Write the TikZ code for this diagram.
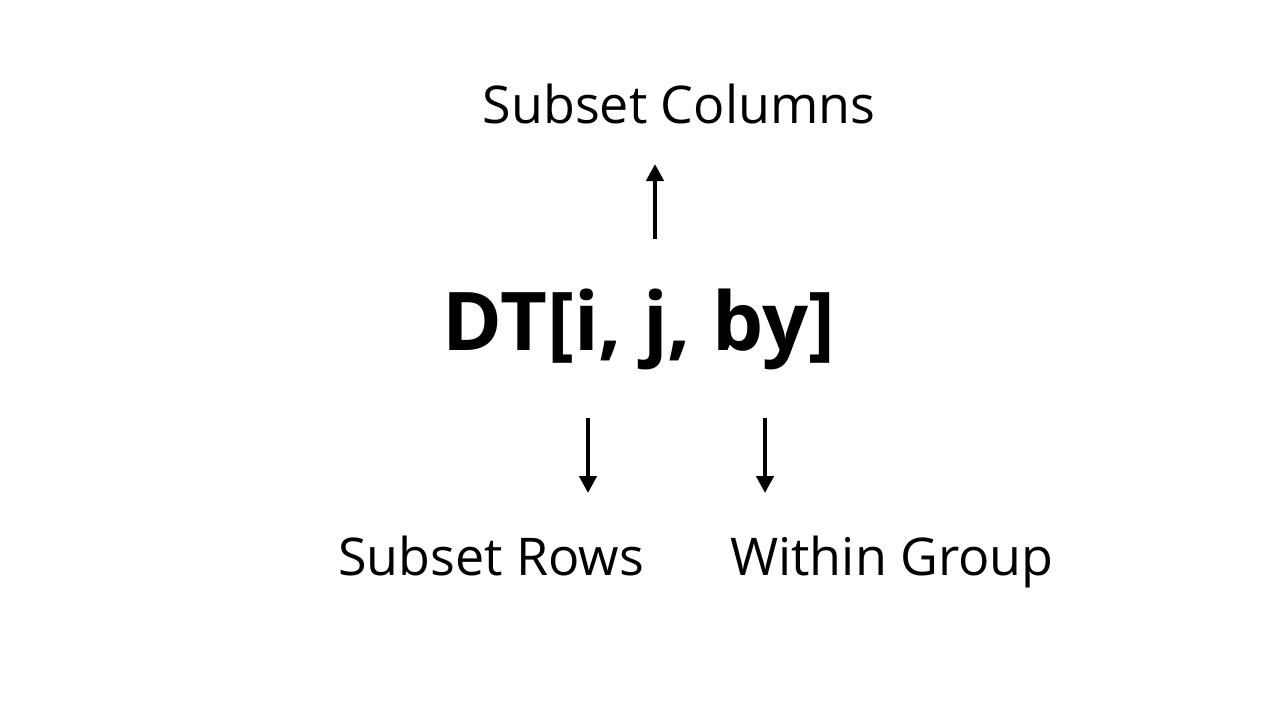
\documentclass[tikz,border=0pt]{standalone}
\usepackage{fontspec}
\setmainfont{Open Sans}
\usetikzlibrary{arrows.meta}
\tikzset{
  lbl/.style={inner sep=0pt, anchor=base, font=\fontsize{26}{30}\selectfont},
  main/.style={inner sep=0pt, anchor=base, font=\fontsize{40.5}{46}\selectfont\bfseries},
  arr/.style={line width=2.25pt, -{Triangle[length=8.5pt,width=8.5pt]}}
}
\begin{document}
\begin{tikzpicture}[x=0.5pt,y=-0.5pt]
\useasboundingbox (0,0) rectangle (1280,720);
\node[lbl] (cols) at (679,123) {Subset\ Columns};
\node[main] (dt) at (639,350) {DT[i, j, by]};
\node[lbl] (rows) at (491,575) {Subset\ Rows};
\node[lbl] (grp) at (892,575) {Within\ Group};
\coordinate (a1s) at (655,239);
\coordinate (a1e) at (655,164);
\coordinate (a2s) at (588,418);
\coordinate (a2e) at (588,493);
\coordinate (a3s) at (765,418);
\coordinate (a3e) at (765,493);
\draw[arr] (a1s) -- (a1e);
\draw[arr] (a2s) -- (a2e);
\draw[arr] (a3s) -- (a3e);
\end{tikzpicture}
\end{document}
